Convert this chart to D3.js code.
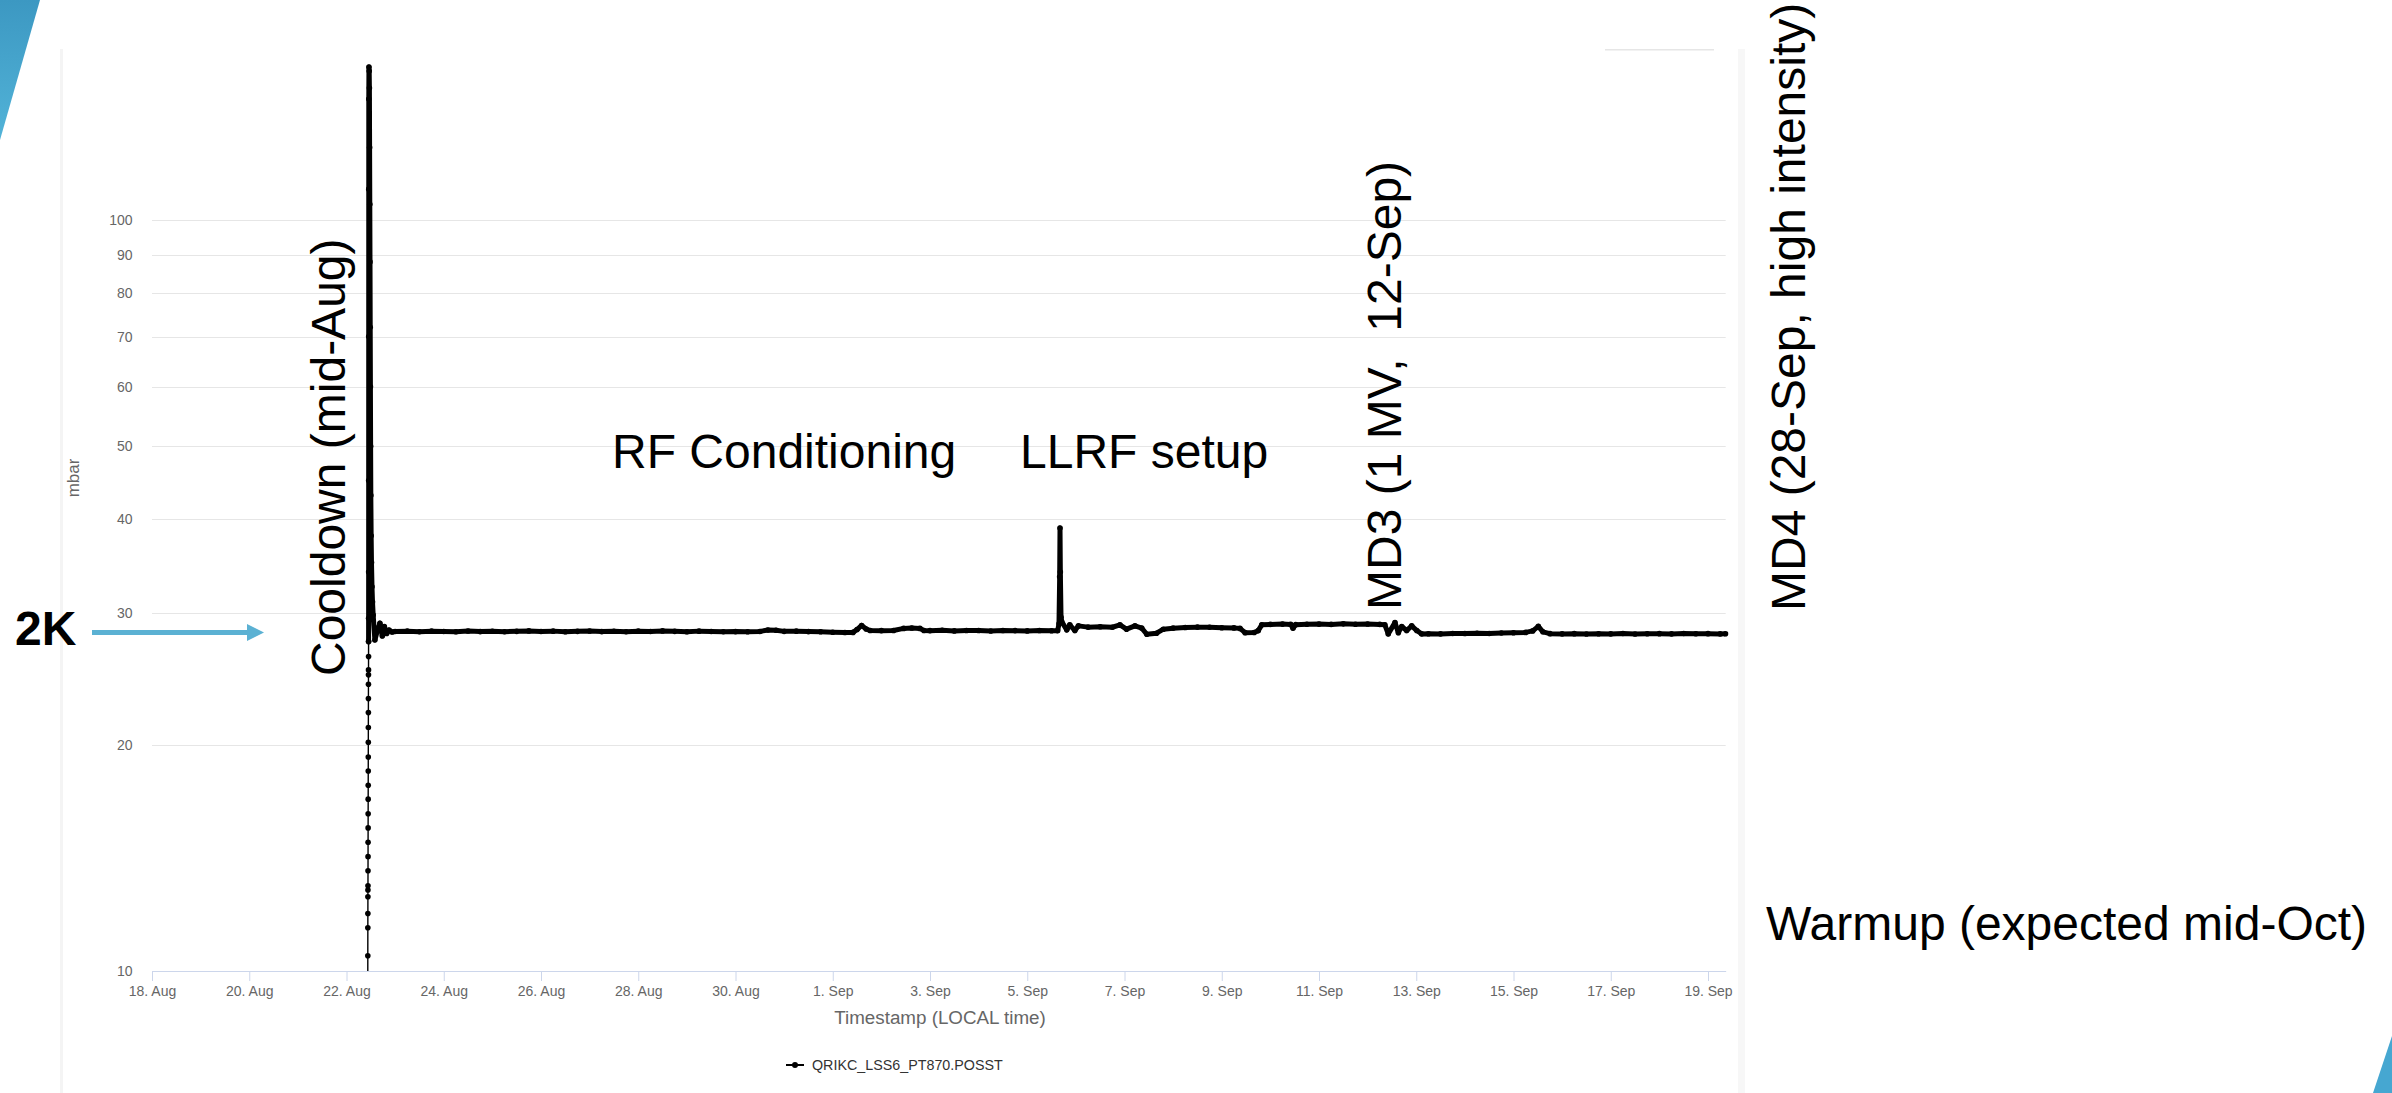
<!DOCTYPE html>
<html>
<head>
<meta charset="utf-8">
<script src="https://cdn.jsdelivr.net/npm/d3@7"></script>
<style>
  body { margin: 0; background: #fff; }
  svg { display: block; font-family: "Liberation Sans", Arial, sans-serif; }
</style>
</head>
<body>
<div id="canvas"></div>
<script>
// y ticks (mbar, log axis) and x ticks (every 2 days)
const yTicks = [10, 20, 30, 40, 50, 60, 70, 80, 90, 100];
const dateTicks = ["08-18", "08-20", "08-22", "08-24", "08-26", "08-28", "08-30",
  "09-01", "09-03", "09-05", "09-07", "09-09", "09-11", "09-13", "09-15", "09-17", "09-19"];
const xStart = "08-18 00:00";
const xEnd = "09-19 08:44";

// QRIKC_LSS6_PT870.POSST readings [time, mbar]
const cooldownRamp = [
  ["08-22 10:30", 9.2], ["08-22 10:31", 10.48], ["08-22 10:32", 11.42], ["08-22 10:33", 11.93],
  ["08-22 10:34", 12.56], ["08-22 10:35", 12.82], ["08-22 10:36", 12.99], ["08-22 10:37", 13.6],
  ["08-22 10:38", 14.2], ["08-22 10:39", 14.84], ["08-22 10:40", 15.51], ["08-22 10:41", 16.2],
  ["08-22 10:42", 16.94], ["08-22 10:43", 17.68], ["08-22 10:44", 18.47], ["08-22 10:45", 19.28],
  ["08-22 10:46", 20.17], ["08-22 10:47", 21.1], ["08-22 10:48", 22.09], ["08-22 10:49", 23.06],
  ["08-22 10:50", 24.1], ["08-22 10:51", 24.8], ["08-22 10:52", 25.18], ["08-22 10:53", 26.23],
  ["08-22 10:54", 27.47]
];
const cooldownPeak = [
  ["08-22 10:55", 29.5], ["08-22 10:56", 34], ["08-22 10:57", 45], ["08-22 10:58", 70],
  ["08-22 10:59", 110], ["08-22 11:00", 145], ["08-22 11:05", 160], ["08-22 11:12", 158],
  ["08-22 11:18", 150], ["08-22 11:24", 125], ["08-22 11:30", 105], ["08-22 11:36", 88],
  ["08-22 11:42", 72], ["08-22 11:48", 60], ["08-22 11:54", 50], ["08-22 12:00", 43],
  ["08-22 12:10", 38], ["08-22 12:20", 35], ["08-22 12:35", 32.5], ["08-22 12:50", 31],
  ["08-22 13:10", 29.8]
];
const augustReadings = [
  ["08-22 14:00", 27.6], ["08-22 15:15", 28.4], ["08-22 16:30", 29.06], ["08-22 17:40", 27.95],
  ["08-22 18:40", 28.76], ["08-22 19:50", 28.16], ["08-22 21:00", 28.45], ["08-22 22:30", 28.28],
  ["08-23 00:00", 28.33], ["08-23 06:00", 28.36], ["08-23 12:00", 28.31], ["08-23 18:00", 28.36],
  ["08-24 00:00", 28.33], ["08-24 06:00", 28.3], ["08-24 12:00", 28.37], ["08-24 18:00", 28.32],
  ["08-25 00:00", 28.35], ["08-25 06:00", 28.31], ["08-25 12:00", 28.34], ["08-25 18:00", 28.38],
  ["08-26 00:00", 28.33], ["08-26 06:00", 28.36], ["08-26 12:00", 28.3], ["08-26 18:00", 28.34],
  ["08-27 00:00", 28.37], ["08-27 06:00", 28.32], ["08-27 12:00", 28.35], ["08-27 18:00", 28.31],
  ["08-28 00:00", 28.36], ["08-28 06:00", 28.33], ["08-28 12:00", 28.38], ["08-28 18:00", 28.34],
  ["08-29 00:00", 28.3], ["08-29 06:00", 28.36], ["08-29 12:00", 28.33], ["08-29 18:00", 28.31],
  ["08-30 00:00", 28.32], ["08-30 06:00", 28.3], ["08-30 12:00", 28.33], ["08-30 16:00", 28.46],
  ["08-30 20:00", 28.44], ["08-31 00:00", 28.34], ["08-31 06:00", 28.36], ["08-31 12:00", 28.32],
  ["08-31 18:00", 28.3], ["09-01 00:00", 28.26], ["09-01 06:00", 28.24], ["09-01 10:00", 28.25]
];
const septemberReadings = [
  ["09-01 12:00", 28.5], ["09-01 14:15", 28.86], ["09-01 16:30", 28.55], ["09-01 18:30", 28.41],
  ["09-02 00:00", 28.4], ["09-02 06:00", 28.42], ["09-02 11:00", 28.6], ["09-02 15:00", 28.63],
  ["09-02 19:00", 28.6], ["09-02 21:00", 28.42], ["09-03 00:00", 28.4], ["09-03 06:00", 28.43],
  ["09-03 12:00", 28.38], ["09-03 18:00", 28.41], ["09-04 00:00", 28.42], ["09-04 06:00", 28.37],
  ["09-04 12:00", 28.41], ["09-04 18:00", 28.4], ["09-05 00:00", 28.38], ["09-05 06:00", 28.42],
  ["09-05 12:00", 28.39], ["09-05 15:00", 28.4], ["09-05 15:40", 29.0], ["09-05 16:00", 33.5],
  ["09-05 16:10", 38.9], ["09-05 16:20", 34.0], ["09-05 16:40", 29.6], ["09-05 17:00", 29.2],
  ["09-05 19:30", 28.47], ["09-05 21:00", 28.91], ["09-05 23:30", 28.41], ["09-06 01:15", 28.82],
  ["09-06 06:00", 28.71], ["09-06 12:00", 28.74], ["09-06 18:00", 28.7], ["09-06 21:45", 28.91],
  ["09-07 01:00", 28.53], ["09-07 05:10", 28.82], ["09-07 08:30", 28.62], ["09-07 11:00", 28.09],
  ["09-07 15:50", 28.18], ["09-07 19:10", 28.53], ["09-08 00:00", 28.62], ["09-08 06:00", 28.68],
  ["09-08 12:00", 28.71], ["09-08 18:00", 28.7], ["09-09 00:00", 28.66], ["09-09 06:00", 28.64],
  ["09-09 09:00", 28.6], ["09-09 11:30", 28.23], ["09-09 16:00", 28.24], ["09-09 18:00", 28.4],
  ["09-09 19:45", 28.91], ["09-10 00:00", 28.95], ["09-10 06:00", 28.98], ["09-10 10:00", 28.95],
  ["09-10 11:10", 28.62], ["09-10 12:30", 28.93], ["09-10 18:00", 28.97], ["09-11 00:00", 28.98],
  ["09-11 06:00", 28.95], ["09-11 12:00", 29.0], ["09-11 18:00", 28.96], ["09-12 00:00", 28.99],
  ["09-12 06:00", 28.95], ["09-12 08:30", 28.91], ["09-12 10:10", 28.12], ["09-12 13:30", 29.11],
  ["09-12 15:10", 28.23], ["09-12 16:50", 28.76], ["09-12 19:15", 28.41], ["09-12 21:45", 28.82],
  ["09-13 00:15", 28.41], ["09-13 02:40", 28.12], ["09-13 06:00", 28.13], ["09-13 12:00", 28.12],
  ["09-13 18:00", 28.15], ["09-14 00:00", 28.16], ["09-14 06:00", 28.18], ["09-14 12:00", 28.15],
  ["09-14 18:00", 28.2], ["09-15 00:00", 28.22], ["09-15 06:00", 28.25], ["09-15 09:30", 28.38],
  ["09-15 12:15", 28.78], ["09-15 14:30", 28.3], ["09-15 18:00", 28.14], ["09-16 00:00", 28.12],
  ["09-16 06:00", 28.14], ["09-16 12:00", 28.11], ["09-16 18:00", 28.13], ["09-17 00:00", 28.12],
  ["09-17 06:00", 28.15], ["09-17 12:00", 28.11], ["09-17 18:00", 28.13], ["09-18 00:00", 28.14],
  ["09-18 06:00", 28.12], ["09-18 12:00", 28.15], ["09-18 18:00", 28.13], ["09-19 00:00", 28.14],
  ["09-19 06:00", 28.12], ["09-19 08:40", 28.13]
];
const seriesName = "QRIKC_LSS6_PT870.POSST";

const width = 2392;
const height = 1093;
const margin = { top: 67, left: 152, bottom: 122, right: 666.3 };
const iwidth = width - margin.left - margin.right;
const iheight = height - margin.top - margin.bottom;

const parseTime = d3.timeParse("%Y-%m-%d %H:%M");
const t = (s) => parseTime("2018-" + s);

const svg = d3.select("#canvas").append("svg")
  .attr("width", width).attr("height", height)
  .attr("viewBox", [0, 0, width, height]);

// slide decoration
const defs = svg.append("defs");
const grad = defs.append("linearGradient").attr("id", "blue")
  .attr("x1", 0).attr("y1", 0).attr("x2", 0).attr("y2", 1);
grad.append("stop").attr("offset", 0).attr("stop-color", "#3c98c2");
grad.append("stop").attr("offset", 1).attr("stop-color", "#52b3d8");
svg.append("path").attr("d", "M0,0 L40,0 L0,140 Z").attr("fill", "url(#blue)");
svg.append("path").attr("d", "M2392,1036 L2392,1093 L2373,1093 Z").attr("fill", "#46a7d1");

// chart container edges
svg.append("rect").attr("x", 60).attr("y", 49).attr("width", 3).attr("height", 1044).attr("fill", "#f4f4f4");
svg.append("rect").attr("x", 1738).attr("y", 49).attr("width", 7).attr("height", 1044).attr("fill", "#f7f7f7");
svg.append("rect").attr("x", 1605).attr("y", 49).attr("width", 109).attr("height", 1.5).attr("fill", "#e6e6e6");

const g = svg.append("g").attr("transform", `translate(${margin.left},${margin.top})`);

const x = d3.scaleTime().domain([t(xStart), t(xEnd)]).range([0, iwidth]);
const y = d3.scaleLog().domain([10, 160]).range([iheight, 0]);

// grid
g.append("g").selectAll("line").data(yTicks).join("line")
  .attr("x1", 0).attr("x2", iwidth)
  .attr("y1", (d) => Math.round(y(d)) + 0.5).attr("y2", (d) => Math.round(y(d)) + 0.5)
  .attr("stroke", "#e6e6e6");

// y axis labels
const yAxis = g.append("g").call(d3.axisLeft(y).tickValues(yTicks).tickFormat(d3.format("d")).tickSize(0).tickPadding(19.5));
yAxis.select(".domain").remove();
yAxis.selectAll("text").attr("fill", "#666").attr("font-size", 14).attr("font-family", null);

svg.append("text").attr("transform", "translate(79,478) rotate(-90)")
  .attr("text-anchor", "middle").attr("fill", "#666").attr("font-size", 17).text("mbar");

// x axis
const xAxis = g.append("g").attr("transform", `translate(0,${iheight})`)
  .call(d3.axisBottom(x).tickValues(dateTicks.map((d) => t(d + " 00:00")))
    .tickFormat(d3.timeFormat("%-d. %b")).tickSize(10).tickSizeOuter(0).tickPadding(5));
xAxis.select(".domain").attr("stroke", "#ccd6eb");
xAxis.selectAll(".tick line").attr("stroke", "#ccd6eb");
xAxis.selectAll("text").attr("fill", "#666").attr("font-size", 14).attr("font-family", null);

svg.append("text").attr("x", 940).attr("y", 1024).attr("text-anchor", "middle")
  .attr("fill", "#666").attr("font-size", 18.8).text("Timestamp (LOCAL time)");

// series
defs.append("clipPath").attr("id", "plot").append("rect")
  .attr("x", -3).attr("y", -3).attr("width", iwidth + 6).attr("height", iheight + 3);
const line = d3.line().x((d) => x(t(d[0]))).y((d) => y(d[1]));
const plot = g.append("g").attr("clip-path", "url(#plot)");
const thick = [cooldownRamp[cooldownRamp.length - 1]].concat(cooldownPeak, augustReadings, septemberReadings);

plot.append("path").datum(cooldownRamp).attr("d", line)
  .attr("fill", "none").attr("stroke", "#000").attr("stroke-width", 1.4);
plot.append("path").datum(thick).attr("d", line)
  .attr("fill", "none").attr("stroke", "#000").attr("stroke-width", 5).attr("stroke-linejoin", "round");
plot.append("g").selectAll("circle").data(cooldownRamp.concat(thick)).join("circle")
  .attr("cx", (d) => x(t(d[0]))).attr("cy", (d) => y(d[1])).attr("r", 2.8).attr("fill", "#000");

// legend
const lg = svg.append("g").attr("transform", "translate(786,1065)");
lg.append("line").attr("x1", 0).attr("x2", 18).attr("stroke", "#000").attr("stroke-width", 2);
lg.append("circle").attr("cx", 9).attr("r", 3).attr("fill", "#000");
lg.append("text").attr("x", 26).attr("dy", "0.35em").attr("fill", "#333").attr("font-size", 14.3).text(seriesName);

// slide annotations
const note = (txt, px, py, rot) => svg.append("text")
  .attr("transform", `translate(${px},${py})` + (rot ? " rotate(-90)" : ""))
  .attr("font-size", 48).attr("fill", "#000").style("white-space", "pre").text(txt);
note("Cooldown (mid-Aug)", 345, 676, true);
note("RF Conditioning", 612, 468, false);
note("LLRF setup", 1020, 468, false);
note("MD3 (1 MV,  12-Sep)", 1401, 610, true);
note("MD4 (28-Sep, high intensity)", 1805, 611, true);
note("Warmup (expected mid-Oct)", 1766, 940, false);

svg.append("text").attr("x", 15).attr("y", 645).attr("font-size", 48).attr("font-weight", "bold").text("2K");
svg.append("path").attr("d", "M92,632.5 H250").attr("stroke", "#5bb1d3").attr("stroke-width", 5);
svg.append("path").attr("d", "M247,624 L264,632.5 L247,641 Z").attr("fill", "#5bb1d3");
</script>
</body>
</html>
